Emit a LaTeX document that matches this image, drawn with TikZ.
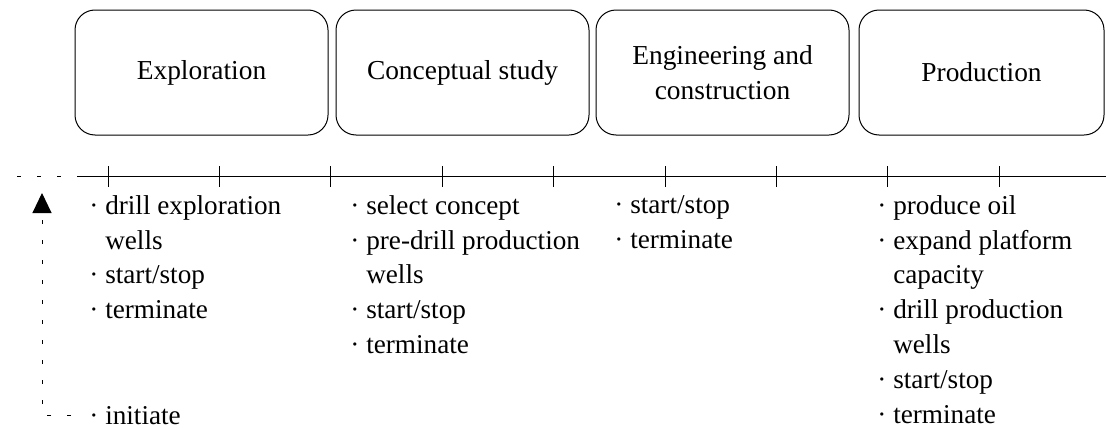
\documentclass[tikz,border=0pt]{standalone}
\usepackage{fontspec}
\setmainfont{Liberation Serif}
\usetikzlibrary{positioning, arrows.meta}
\newcommand{\bul}{\textperiodcentered\ }
\newcommand{\cnt}{\phantom{\textperiodcentered\ }}
\tikzset{
  phasebox/.style={draw, line width=0.5pt, rounded corners=10pt,
    minimum width=126.5pt, minimum height=62.5pt, align=center,
    font=\fontsize{13.7pt}{17.5pt}\selectfont},
  tasklist/.style={anchor=north west, inner sep=0pt, align=left,
    font=\fontsize{13.6pt}{17.4pt}\selectfont},
  tickmark/.style={line width=0.5pt},
  leadline/.style={line width=0.5pt, dash pattern=on 2pt off 8pt}
}

\begin{document}
\begin{tikzpicture}[x=0.5pt, y=-0.5pt]
        \useasboundingbox (0,0) rectangle (1106,428);
        \node[phasebox] (explo) at (201.5,72.5) {Exploration};
        \node[phasebox] (concept) at (462.5,72.5) {Conceptual study};
        \node[phasebox] (engin) at (722.5,72.5) {Engineering and\\construction};
        \node[phasebox, minimum width=122.5pt] (prod) at (981.5,72.5) {Production};
        \coordinate (tl-left) at (17,176);
        \coordinate (tl-start) at (77,176);
        \coordinate (tl-end) at (1106,176);
        \draw[leadline] (tl-left) -- (tl-start);
        \draw[tickmark] (tl-start) -- (tl-end);
        \foreach \i in {0,...,8}
          \draw[tickmark] (108+111.4*\i,166) -- (108+111.4*\i,187);
        \node[tasklist] (explo-tasks) at (89,195)
          {\bul drill exploration\\\cnt wells\\\bul start/stop\\\bul terminate};
        \node[tasklist] (concept-tasks) at (350,195)
          {\bul select concept\\\bul pre-drill production\\\cnt wells\\\bul start/stop\\\bul terminate};
        \node[tasklist] (engin-tasks) at (614,195)
          {\bul start/stop\\\bul terminate};
        \node[tasklist] (prod-tasks) at (877,195)
          {\bul produce oil\\\bul expand platform\\\cnt capacity\\\bul drill production\\\cnt wells\\\bul start/stop\\\bul terminate};
        \node[tasklist, anchor=base west] (init) at (89,424) {\bul initiate};
        \coordinate (kick) at (42,193);
        \draw[leadline, -{Triangle[width=9.5pt,length=10pt]}, shorten <=9pt] (init.west) -| (kick);
      \end{tikzpicture}
\end{document}
